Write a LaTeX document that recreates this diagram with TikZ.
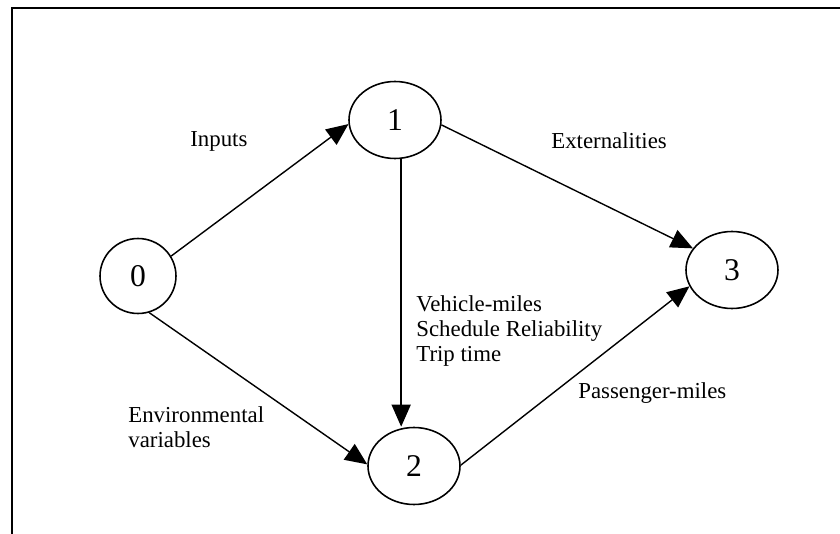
\documentclass[tikz,border=0pt]{standalone}
\usepackage{fontspec}
\setmainfont{Liberation Serif}
\usetikzlibrary{arrows.meta,shapes.geometric}

\begin{document}
\begin{tikzpicture}[x=0.02cm,y=-0.02cm,
  state/.style={draw,ellipse,line width=0.9pt,minimum width=1.84cm,minimum height=1.54cm,inner sep=0pt,font=\fontsize{18}{20}\selectfont},
  flow/.style={-{Triangle[length=4.4mm,width=3.8mm]},line width=0.8pt},
  lbl/.style={anchor=west,inner sep=0pt,align=left,font=\fontsize{13}{14.5}\selectfont}]
\useasboundingbox (0,0) rectangle (840,534);
\draw[line width=1.1pt] (12,534) -- (12,8) -- (840,8);
\draw (138,276) node[state,minimum width=1.52cm,minimum height=1.5cm](zero) {0};
\draw (395,120) node[state](one) {1};
\draw (414,466) node[state](two) {2};
\draw (732,270) node[state](three) {3};
\draw[flow] (zero.31) -- (one.185);
\draw[flow] (zero.287) -- (two.178);
\draw[flow] (one.279) -- (one.279 |- two.north);
\draw[flow] (one.354) -- (three.151);
\draw[flow] (two.1) -- (three.201);
\draw (190,141) node[lbl](inputs) {Inputs};
\draw (551,141) node[lbl](ext) {Externalities};
\draw (416,331) node[lbl](perf) {Vehicle-miles\\Schedule Reliability\\Trip time};
\draw (128,427) node[lbl](env) {Environmental\\variables};
\draw (578,393) node[lbl](pass) {Passenger-miles};
\end{tikzpicture}
\end{document}
